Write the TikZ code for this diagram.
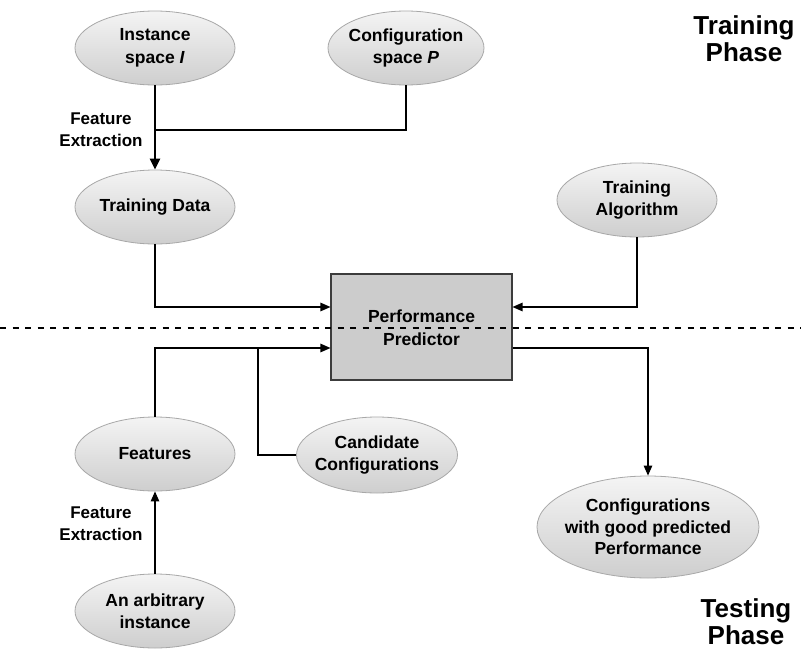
\documentclass[tikz,border=0pt]{standalone}
\usepackage{fontspec}
\setmainfont{Liberation Sans}
\usetikzlibrary{shapes.geometric,arrows.meta}

\definecolor{ellborder}{RGB}{168,168,168}
\definecolor{elltop}{RGB}{244,244,244}
\definecolor{ellbottom}{RGB}{206,206,206}
\definecolor{boxfill}{RGB}{204,204,204}
\definecolor{boxborder}{RGB}{60,60,60}

\begin{document}
\begin{tikzpicture}[x=1pt,y=-1pt,
  ell/.style={ellipse, draw=ellborder, line width=0.8pt,
    top color=elltop, bottom color=ellbottom,
    minimum width=160pt, minimum height=74pt, inner sep=0pt},
  txt/.style={font=\fontsize{17.5}{22.5}\selectfont\bfseries, align=center, inner sep=0pt},
  sidelabel/.style={font=\fontsize{17}{22}\selectfont\bfseries, align=center, inner sep=0pt},
  phase/.style={font=\fontsize{26}{27}\selectfont\bfseries, align=center, inner sep=0pt},
  predbox/.style={rectangle, draw=boxborder, line width=1.1pt, fill=boxfill,
    minimum width=181pt, minimum height=106pt, inner sep=0pt},
  conn/.style={line width=1.2pt, line join=miter},
  arr/.style={conn, -{Triangle[length=10pt,width=8.5pt]}},
  thickarr/.style={line width=2.6pt, -{Triangle[length=11pt,width=10pt]}}
]
\useasboundingbox[fill=white] (0,0) rectangle (801,653);

% training side
\node[ell, label={[txt]center:Instance\\space \textit{I}}] (inst) at (155,48) {};
\node[ell, minimum width=156pt, label={[txt]center:Configuration\\space \textit{P}}] (conf) at (406,48) {};
\node[ell, label={[txt]center:Training Data}] (tdata) at (155,207) {};
\node[ell, label={[txt]center:Training\\Algorithm}] (talg) at (637,200) {};

% predictor
\node[predbox] (pred) at (421.5,327) {};
\node[txt] (predtxt) at (421.5,327.5) {Performance\\Predictor};

% testing side
\node[ell, label={[txt]center:Features}] (feat) at (155,454) {};
\node[ell, minimum width=161pt, minimum height=76pt, label={[txt]center:Candidate\\Configurations}] (cand) at (377,455) {};
\node[ell, minimum width=222pt, minimum height=102pt,
  label={[txt,font=\fontsize{17.5}{21.5}\selectfont\bfseries]center:Configurations\\with good predicted\\Performance}] (good) at (648,527) {};
\node[ell, label={[txt]center:An arbitrary\\instance}] (arb) at (155,611) {};

% side labels and phase titles
\node[sidelabel] (fe1) at (101,130) {Feature\\Extraction};
\node[sidelabel] (fe2) at (101,524) {Feature\\Extraction};
\node[phase] (trainphase) at (744,38.5) {Training\\Phase};
\node[phase] (testphase) at (746,621.5) {Testing\\Phase};

% junctions
\coordinate (merge) at (155,130);
\coordinate (tap) at (258,348);

% training connectors
\draw[conn] (inst.south) -- (merge);
\draw[conn] (conf.south) |- (merge);
\draw[thickarr] (merge) -- (tdata.north);
\draw[arr] (tdata.south) |- ([yshift=20pt]pred.west);
\draw[arr] (talg.south) |- ([yshift=20pt]pred.east);

% testing connectors
\draw[arr] (feat.north) |- ([yshift=-21pt]pred.west);
\draw[conn] (cand.west) -| (tap);
\draw[arr] ([yshift=-21pt]pred.east) -| (good.north);
\draw[arr] (arb.north) -- (feat.south);

% phase separator
\draw[line width=2pt, dash pattern=on 6pt off 6.5pt] (0,328) -- (801,328);
\end{tikzpicture}
\end{document}
